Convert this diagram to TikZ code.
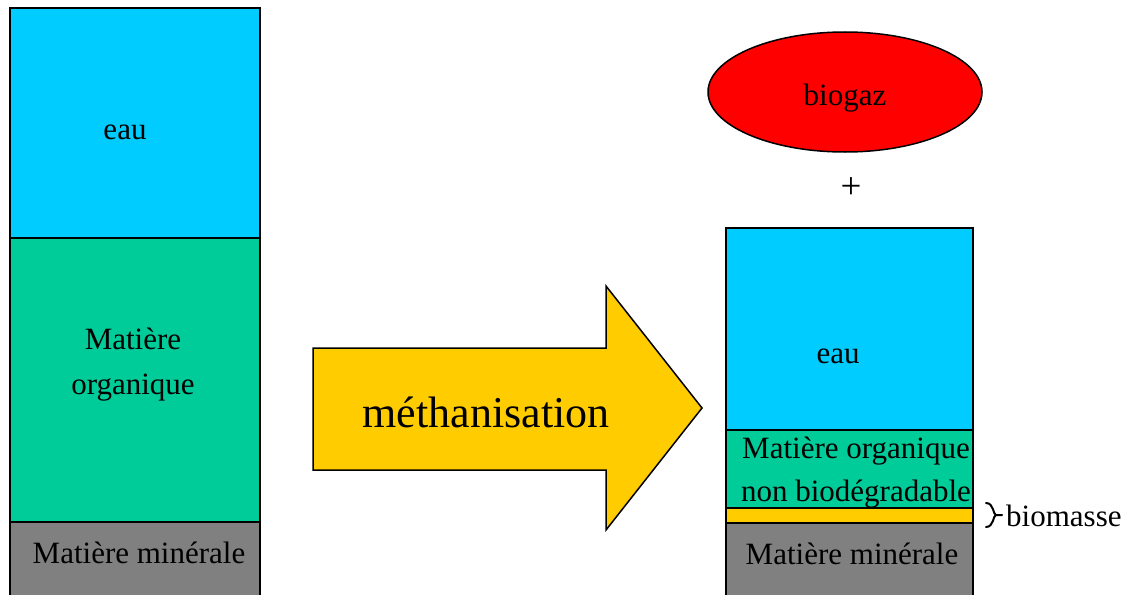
\documentclass[tikz,border=0pt]{standalone}
\usepackage{fontspec}
\setmainfont{Liberation Serif}
\usetikzlibrary{shapes.geometric}
\definecolor{eaucol}{HTML}{00CCFF}
\definecolor{orgcol}{HTML}{00CC99}
\definecolor{mincol}{HTML}{808080}
\definecolor{biocol}{HTML}{FFCC00}
\definecolor{gazcol}{HTML}{FF0000}
\tikzset{
  layer/.style={draw=black, line width=1.5pt, inner sep=0pt},
  lbl/.style={font=\fontsize{31}{44}\selectfont, align=center, inner sep=0pt},
}
\begin{document}
\begin{tikzpicture}[x=1pt,y=-1pt]
\useasboundingbox (0,0) rectangle (1134,594);
% left column
\path[layer, fill=eaucol] (10,8) rectangle (260,238);
\path[layer, fill=orgcol] (10,238) rectangle (260,522);
\path[layer, fill=mincol] (10,522) rectangle (260,600);
\node[lbl] (leau) at (125,132) {eau};
\node[lbl, font=\fontsize{31}{45}\selectfont] (lorg) at (133,365) {Matière\\organique};
\node[lbl] (lmin) at (139,553) {Matière minérale};
% arrow
\path[layer, fill=biocol, line join=miter] (313,348) -- (606,348) -- (606,286) -- (702,408) -- (606,530) -- (606,470) -- (313,470) -- cycle;
\node[lbl, font=\fontsize{44}{50}\selectfont] (meth) at (486,412) {méthanisation};
% biogaz
\node[ellipse, draw=black, line width=1.5pt, fill=gazcol, minimum width=274pt, minimum height=120pt, inner sep=0pt] (gaz) at (845,92) {};
\node[lbl] (gaztxt) at (845,98) {biogaz};
\node[lbl, font=\fontsize{37}{40}\selectfont] (plus) at (851,188) {+};
% right column
\path[layer, fill=eaucol] (726,228) rectangle (973,430);
\path[layer, fill=orgcol] (726,430) rectangle (973,508);
\path[layer, fill=biocol] (726,508) rectangle (973,523);
\path[layer, fill=mincol] (726,523) rectangle (973,600);
\node[lbl] (reau) at (838,356) {eau};
\node[lbl, font=\fontsize{31}{43}\selectfont] (rorg) at (856,473) {Matière organique\\non biodégradable};
\node[lbl] (rmin) at (852,554) {Matière minérale};
\coordinate (bt) at (986,503);
\coordinate (bm) at (1002,515);
\coordinate (bb) at (986,527);
\draw[line width=2pt, line cap=round] (bt) .. controls (994,503) and (993,515) .. (996,515) -- (bm)
  (996,515) .. controls (993,515) and (994,527) .. (bb);
\node[lbl, anchor=west] (bio) at (1006,516) {biomasse};
\end{tikzpicture}
\end{document}
